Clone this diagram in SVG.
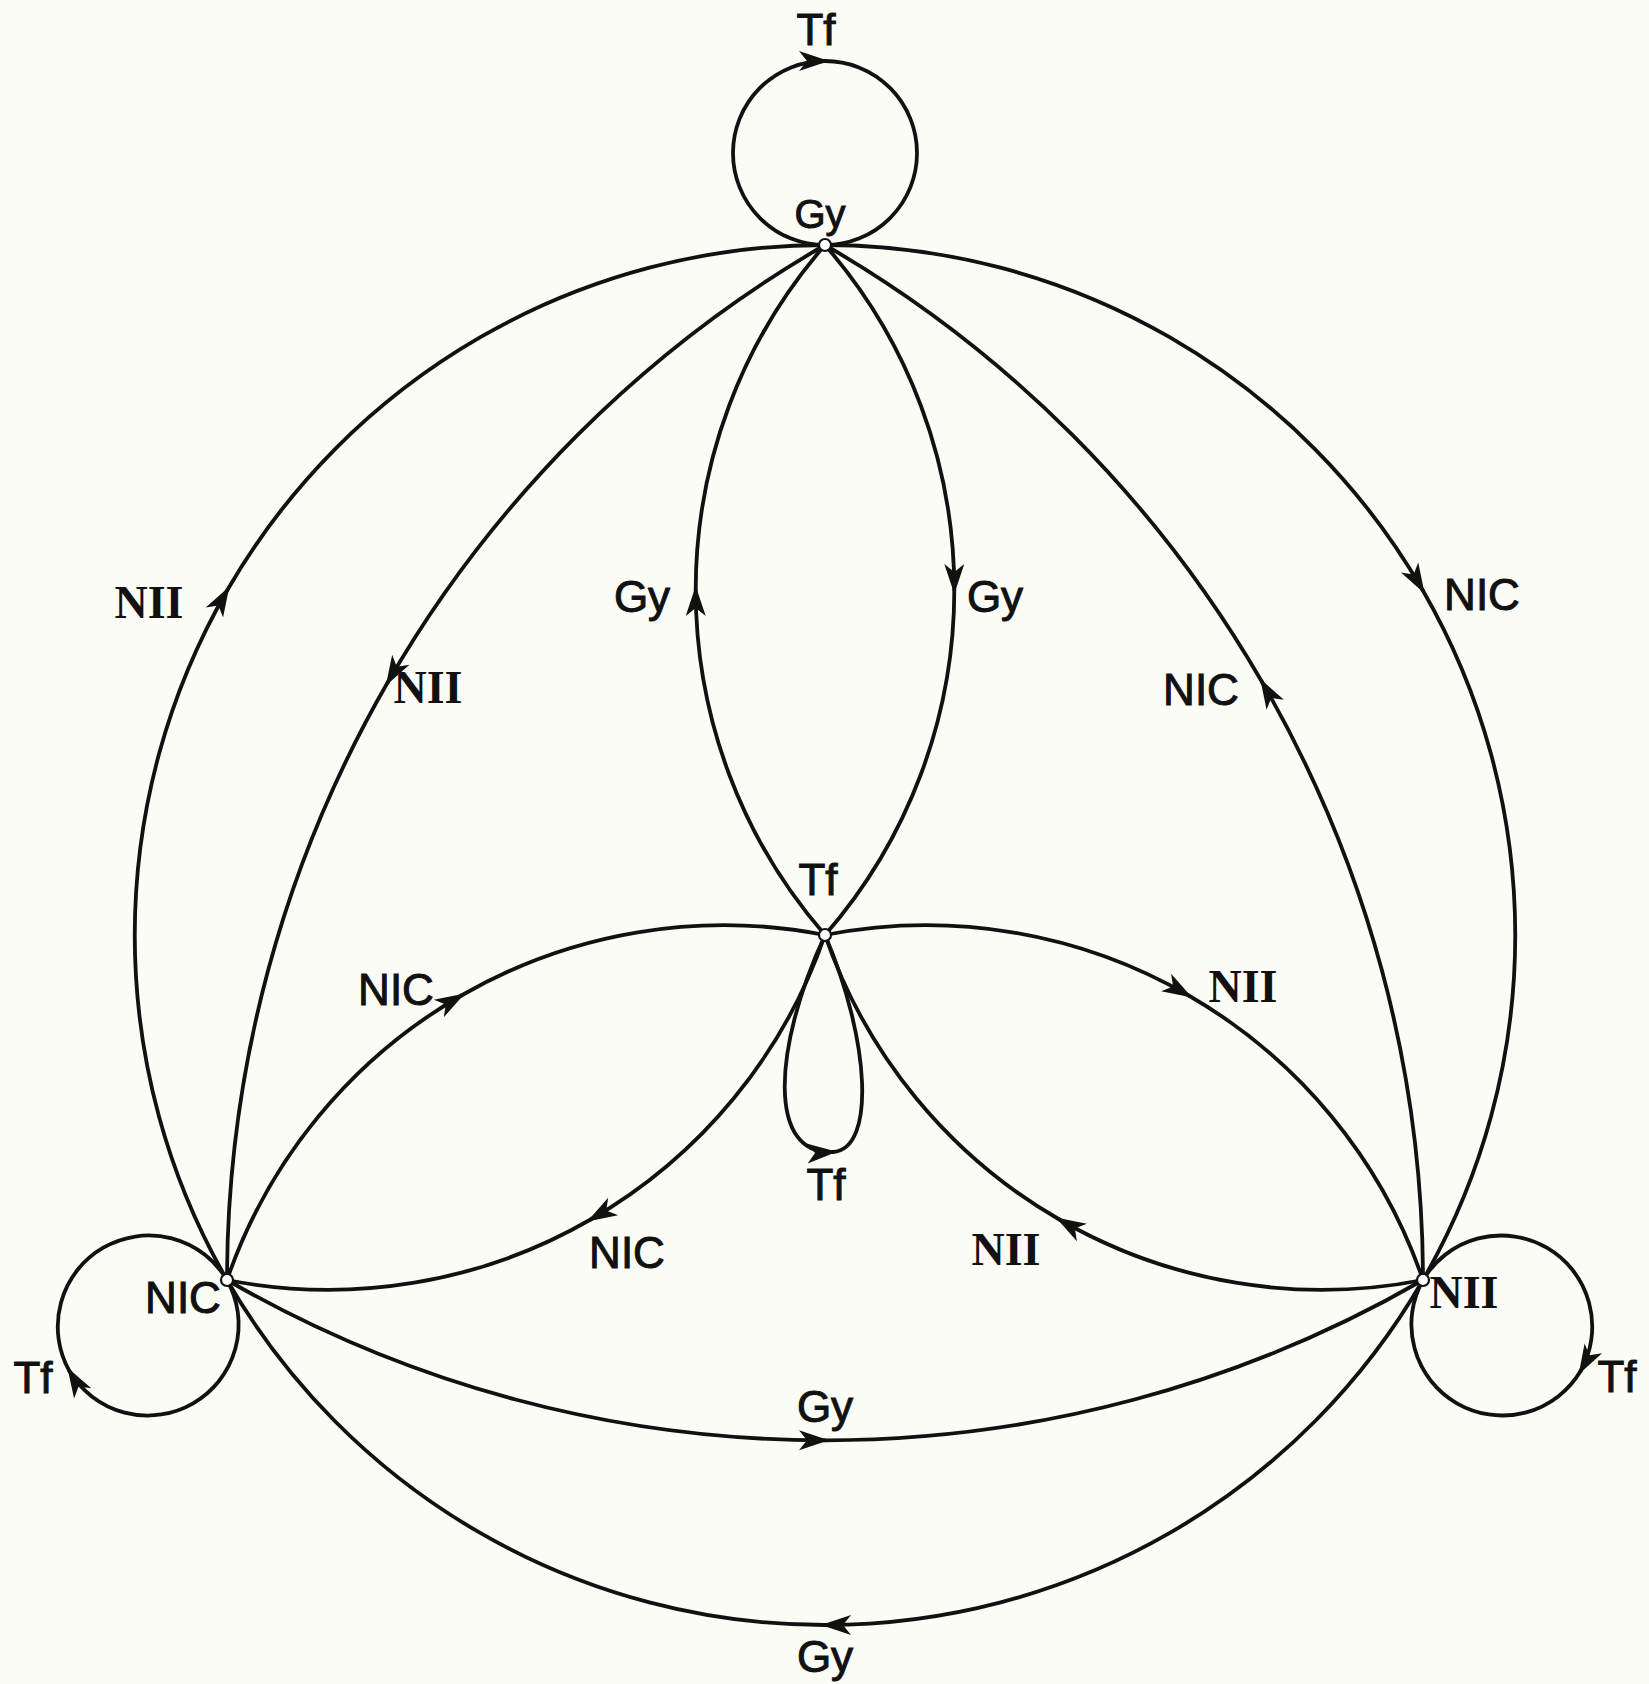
<svg xmlns="http://www.w3.org/2000/svg" width="1649" height="1684" viewBox="0 0 1649 1684">
  <style>
    .edge { fill: none; stroke: #111; stroke-width: 3.8; stroke-linecap: round; }
    .arr { marker-end: url(#arrow); }
    .node { fill: #fff; stroke: #111; stroke-width: 2.2; }
    .lbl { font-family: "Liberation Sans", Arial, sans-serif; font-size: 44px; fill: #111; stroke: #111; stroke-width: 1; text-anchor: middle; }
    .lbls { font-family: "Liberation Serif", "Times New Roman", serif; font-size: 46px; font-weight: bold; fill: #111; text-anchor: middle; }
  </style>
  <defs>
    <marker id="arrow" viewBox="-30 -13 36 26" refX="0" refY="0" markerWidth="36" markerHeight="26" markerUnits="userSpaceOnUse" orient="auto">
      <path d="M4,0 L-26,-10 L-18,0 L-26,10 Z" fill="#111"/>
    </marker>
  </defs>
  <rect x="0" y="0" width="1649" height="1684" fill="#fcfcf7"/>

  <g id="connectors">
    <!-- outer circle arcs (centre T, r 690) -->
    <g id="e-NIC-Gy-outer">
      <path class="edge arr" d="M227,1280 A690,690 0 0 1 227.4,590"/>
      <path class="edge" d="M227.4,590 A690,690 0 0 1 825,245"/>
    </g>
    <g id="e-Gy-NII-outer">
      <path class="edge arr" d="M825,245 A690,690 0 0 1 1422.6,590"/>
      <path class="edge" d="M1422.6,590 A690,690 0 0 1 1423,1280"/>
    </g>
    <g id="e-NII-NIC-outer">
      <path class="edge arr" d="M1423,1280 A690,690 0 0 1 825,1625"/>
      <path class="edge" d="M825,1625 A690,690 0 0 1 227,1280"/>
    </g>
    <!-- Reuleaux arcs (r 1195.3) -->
    <g id="e-Gy-NIC-inner">
      <path class="edge arr" d="M825,245 A1195.3,1195.3 0 0 0 387.8,682.3"/>
      <path class="edge" d="M387.8,682.3 A1195.3,1195.3 0 0 0 227,1280"/>
    </g>
    <g id="e-NII-Gy-inner">
      <path class="edge arr" d="M1423,1280 A1195.3,1195.3 0 0 0 1262.2,682.3"/>
      <path class="edge" d="M1262.2,682.3 A1195.3,1195.3 0 0 0 825,245"/>
    </g>
    <g id="e-NIC-NII-inner">
      <path class="edge arr" d="M227,1280 A1195.3,1195.3 0 0 0 825,1440.3"/>
      <path class="edge" d="M825,1440.3 A1195.3,1195.3 0 0 0 1423,1280"/>
    </g>
    <!-- lens arcs (r 525) -->
    <g id="e-Tf-Gy">
      <path class="edge arr" d="M825,935 A525,525 0 0 1 695.7,590"/>
      <path class="edge" d="M695.7,590 A525,525 0 0 1 825,245"/>
    </g>
    <g id="e-Gy-Tf">
      <path class="edge arr" d="M825,245 A525,525 0 0 1 954.3,590"/>
      <path class="edge" d="M954.3,590 A525,525 0 0 1 825,935"/>
    </g>
    <g id="e-NIC-Tf">
      <path class="edge arr" d="M227,1280 A525,525 0 0 1 461.35,995.5"/>
      <path class="edge" d="M461.35,995.5 A525,525 0 0 1 825,935"/>
    </g>
    <g id="e-Tf-NIC">
      <path class="edge arr" d="M825,935 A525,525 0 0 1 590.65,1219.5"/>
      <path class="edge" d="M590.65,1219.5 A525,525 0 0 1 227,1280"/>
    </g>
    <g id="e-Tf-NII">
      <path class="edge arr" d="M825,935 A525,525 0 0 1 1188.65,995.5"/>
      <path class="edge" d="M1188.65,995.5 A525,525 0 0 1 1423,1280"/>
    </g>
    <g id="e-NII-Tf">
      <path class="edge arr" d="M1423,1280 A525,525 0 0 1 1059.35,1219.5"/>
      <path class="edge" d="M1059.35,1219.5 A525,525 0 0 1 825,935"/>
    </g>
    <!-- self loops -->
    <g id="loop-Gy">
      <path class="edge arr" d="M825,245 A92,92 0 0 1 825,61"/>
      <path class="edge" d="M825,61 A92,92 0 0 1 825,245"/>
    </g>
    <g id="loop-NIC">
      <path class="edge arr" d="M227,1280 A91,91 0 0 1 69.4,1371"/>
      <path class="edge" d="M69.4,1371 A91,91 0 0 1 227,1280"/>
    </g>
    <g id="loop-NII">
      <path class="edge arr" d="M1423,1280 A91,91 0 0 1 1580.6,1371"/>
      <path class="edge" d="M1580.6,1371 A91,91 0 0 1 1423,1280"/>
    </g>
    <g id="loop-Tf">
      <path class="edge arr" d="M825,935 C772,1050 768,1156 833,1152"/>
      <path class="edge" d="M833,1152 C876,1149 870,1040 825,935"/>
    </g>
  </g>

  <g id="edge-labels">
    <text class="lbl" x="816" y="45">Tf</text>
    <text class="lbl" x="33" y="1393">Tf</text>
    <text class="lbl" x="1617" y="1392">Tf</text>
    <text class="lbl" x="826" y="1200">Tf</text>
    <text class="lbls" x="149" y="618">NII</text>
    <text class="lbls" x="428" y="703">NII</text>
    <text class="lbl" x="642" y="612">Gy</text>
    <text class="lbl" x="995" y="612">Gy</text>
    <text class="lbl" x="1201" y="705">NIC</text>
    <text class="lbl" x="1482" y="610">NIC</text>
    <text class="lbl" x="396" y="1005">NIC</text>
    <text class="lbl" x="627" y="1268">NIC</text>
    <text class="lbls" x="1243" y="1002">NII</text>
    <text class="lbls" x="1006" y="1265">NII</text>
    <text class="lbl" x="825" y="1422">Gy</text>
    <text class="lbl" x="825" y="1672">Gy</text>
  </g>

  <g id="node-Gy">
    <circle class="node" cx="825" cy="245" r="6"/>
    <text class="lbl" x="820" y="228" style="font-size:40px">Gy</text>
  </g>
  <g id="node-Tf">
    <circle class="node" cx="825" cy="935" r="6"/>
    <text class="lbl" x="818" y="895">Tf</text>
  </g>
  <g id="node-NIC">
    <circle class="node" cx="227" cy="1280" r="6"/>
    <text class="lbl" x="183" y="1313">NIC</text>
  </g>
  <g id="node-NII">
    <circle class="node" cx="1423" cy="1280" r="6"/>
    <text class="lbls" x="1464" y="1308">NII</text>
  </g>
</svg>
